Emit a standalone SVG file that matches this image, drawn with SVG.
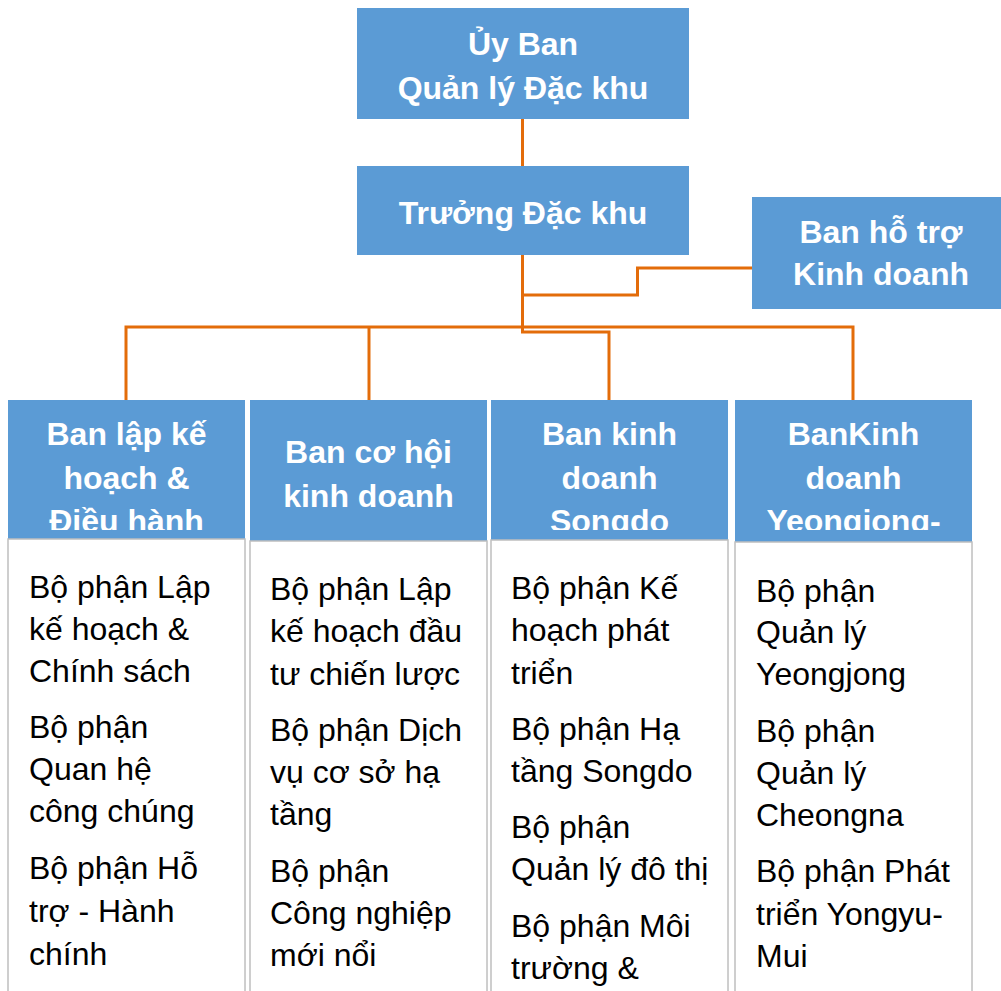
<svg xmlns="http://www.w3.org/2000/svg" width="1001" height="991" viewBox="0 0 1001 991">
  <style>
    .box { fill: #5B9BD5; }
    .body { fill: #FFFFFF; stroke: #BFBFBF; stroke-width: 1.5; }
    .hd { font-family: "Liberation Sans", Arial, sans-serif; font-weight: bold; font-size: 32px; fill: #FFFFFF; text-anchor: middle; }
    .it { font-family: "Liberation Sans", Arial, sans-serif; font-size: 32px; fill: #000000; }
    .wire { fill: none; stroke: #E36C0A; stroke-width: 3; }
  </style>
  <defs>
    <clipPath id="hdclip"><rect x="0" y="395" width="1001" height="135"/></clipPath>
  </defs>
  <rect width="1001" height="991" fill="#FFFFFF"/>

  <g id="connectors">
    <path class="wire" d="M522.5 119 V166"/>
    <path class="wire" d="M522.5 255 V332 H609 V400"/>
    <path class="wire" d="M752 268 H637.5 V295 H522.5"/>
    <path class="wire" d="M126 400 V327 H853 V400"/>
    <path class="wire" d="M369 327 V400"/>
  </g>

  <g id="committee">
    <rect class="box" x="357" y="8" width="332" height="111"/>
    <text class="hd" x="523" y="55">Ủy Ban</text>
    <text class="hd" x="523" y="99">Quản lý Đặc khu</text>
  </g>

  <g id="head">
    <rect class="box" x="357" y="166" width="332" height="89"/>
    <text class="hd" x="523" y="224">Trưởng Đặc khu</text>
  </g>

  <g id="support">
    <rect class="box" x="752" y="197" width="258" height="112"/>
    <text class="hd" x="881" y="243">Ban hỗ trợ</text>
    <text class="hd" x="881" y="285">Kinh doanh</text>
  </g>

  <g id="planning">
    <rect class="box" x="8" y="400" width="237" height="140"/>
    <g clip-path="url(#hdclip)">
      <text class="hd" x="126.5" y="445">Ban lập kế</text>
      <text class="hd" x="126.5" y="489">hoạch &amp;</text>
      <text class="hd" x="126.5" y="532">Điều hành</text>
    </g>
    <rect class="body" x="8" y="539" width="237" height="470"/>
    <text class="it" x="29" y="598">Bộ phận Lập</text>
    <text class="it" x="29" y="640">kế hoạch &amp;</text>
    <text class="it" x="29" y="682">Chính sách</text>
    <text class="it" x="29" y="738">Bộ phận</text>
    <text class="it" x="29" y="780">Quan hệ</text>
    <text class="it" x="29" y="822">công chúng</text>
    <text class="it" x="29" y="879">Bộ phận Hỗ</text>
    <text class="it" x="29" y="922">trợ - Hành</text>
    <text class="it" x="29" y="965">chính</text>
  </g>

  <g id="opportunity">
    <rect class="box" x="250" y="400" width="237" height="142"/>
    <text class="hd" x="368.5" y="463">Ban cơ hội</text>
    <text class="hd" x="368.5" y="507">kinh doanh</text>
    <rect class="body" x="250" y="541" width="237" height="470"/>
    <text class="it" x="270" y="600">Bộ phận Lập</text>
    <text class="it" x="270" y="642">kế hoạch đầu</text>
    <text class="it" x="270" y="685">tư chiến lược</text>
    <text class="it" x="270" y="741">Bộ phận Dịch</text>
    <text class="it" x="270" y="783">vụ cơ sở hạ</text>
    <text class="it" x="270" y="825">tầng</text>
    <text class="it" x="270" y="882">Bộ phận</text>
    <text class="it" x="270" y="924">Công nghiệp</text>
    <text class="it" x="270" y="966">mới nổi</text>
  </g>

  <g id="songdo">
    <rect class="box" x="491" y="400" width="237" height="141"/>
    <g clip-path="url(#hdclip)">
      <text class="hd" x="609.5" y="445">Ban kinh</text>
      <text class="hd" x="609.5" y="489">doanh</text>
      <text class="hd" x="609.5" y="532">Songdo</text>
    </g>
    <rect class="body" x="491" y="540" width="237" height="470"/>
    <text class="it" x="511" y="599">Bộ phận Kế</text>
    <text class="it" x="511" y="641">hoạch phát</text>
    <text class="it" x="511" y="684">triển</text>
    <text class="it" x="511" y="740">Bộ phận Hạ</text>
    <text class="it" x="511" y="782">tầng Songdo</text>
    <text class="it" x="511" y="838">Bộ phận</text>
    <text class="it" x="511" y="880">Quản lý đô thị</text>
    <text class="it" x="511" y="937">Bộ phận Môi</text>
    <text class="it" x="511" y="979">trường &amp;</text>
  </g>

  <g id="yeongjong">
    <rect class="box" x="735" y="400" width="237" height="143"/>
    <g clip-path="url(#hdclip)">
      <text class="hd" x="853.5" y="445">BanKinh</text>
      <text class="hd" x="853.5" y="489">doanh</text>
      <text class="hd" x="853.5" y="532">Yeongjong-</text>
    </g>
    <rect class="body" x="735" y="542" width="237" height="470"/>
    <text class="it" x="756" y="602">Bộ phận</text>
    <text class="it" x="756" y="643">Quản lý</text>
    <text class="it" x="756" y="685">Yeongjong</text>
    <text class="it" x="756" y="742">Bộ phận</text>
    <text class="it" x="756" y="784">Quản lý</text>
    <text class="it" x="756" y="826">Cheongna</text>
    <text class="it" x="756" y="882">Bộ phận Phát</text>
    <text class="it" x="756" y="925">triển Yongyu-</text>
    <text class="it" x="756" y="967">Mui</text>
  </g>
</svg>
